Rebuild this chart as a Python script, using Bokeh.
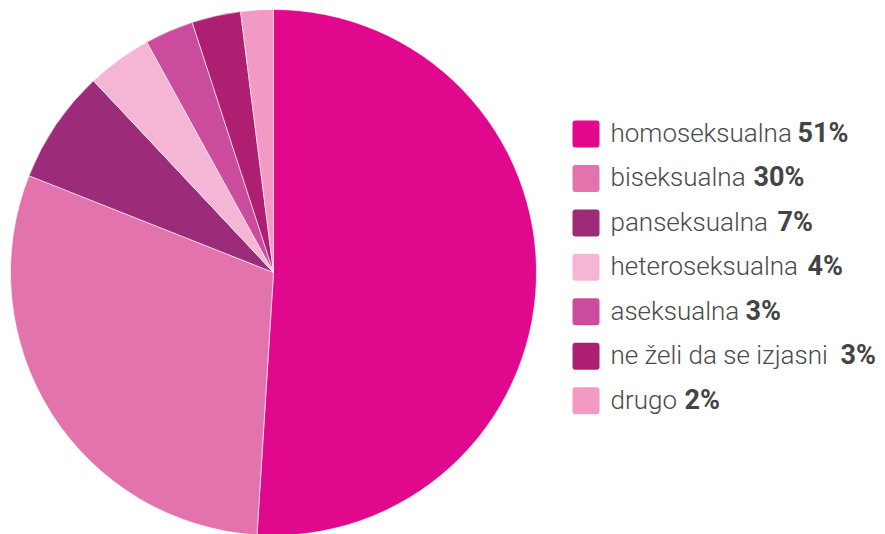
import math
from bokeh.plotting import figure
from bokeh.models import ColumnDataSource, Range1d
from bokeh.core.properties import value
from bokeh.embed import file_html
from bokeh.resources import INLINE

categories = ["homoseksualna", "biseksualna", "panseksualna", "heteroseksualna",
              "aseksualna", "ne želi da se izjasni", "drugo"]
shares = [51, 30, 7, 4, 3, 3, 2]
colors = ["#E0098D", "#E373AC", "#9C2B7A", "#F5B6D5", "#CB4C9C", "#AE1F72", "#F29AC4"]
pct_labels = [f"{v}%" for v in shares]

W, H = 885, 534
p = figure(width=W, height=H, output_backend="svg", toolbar_location=None,
           x_range=Range1d(0, W), y_range=Range1d(H, 0), min_border=0)
p.axis.visible = False
p.grid.visible = False
p.outline_line_color = None
p.background_fill_color = "white"

# pie: clockwise from 12 o'clock
cx, cy, r = 273, 272, 263
total = sum(shares)
starts, ends = [], []
acc = 0.0
for v in shares:
    a0 = math.pi / 2 - 2 * math.pi * acc / total
    acc += v
    a1 = math.pi / 2 - 2 * math.pi * acc / total
    starts.append(a0)
    ends.append(a1)
src = ColumnDataSource(dict(start=starts, end=ends, color=colors))
p.wedge(x=cx, y=cy, radius=r, start_angle="start", end_angle="end",
        fill_color="color", line_color="white", line_width=0.6, source=src,
        direction="clock")

# legend
lx, ly0, dy = 585.5, 133.5, 44.45
pct_x = [797, 753, 777, 807, 745, 840, 684]
ys = [ly0 + i * dy for i in range(len(categories))]
ty = [y - 1 for y in ys]
lsrc = ColumnDataSource(dict(y=ys, t=ty, name=categories, pct=pct_labels,
                             color=colors, px=pct_x))
p.rect(x=lx, y="y", width=21, height=21, fill_color="color", line_color="color",
       line_width=6, line_join="round", source=lsrc)
p.text(x=610, y="t", text="name", text_font=value("Roboto Light, Roboto"),
       text_font_size="26px", text_color="#4a4a4a", text_baseline="middle",
       source=lsrc)
p.text(x="px", y="t", text="pct", text_font=value("Roboto"), text_font_size="27px",
       text_font_style="bold", text_color="#444444", text_baseline="middle",
       source=lsrc)

open("out.html", "w").write(file_html(p, INLINE))
